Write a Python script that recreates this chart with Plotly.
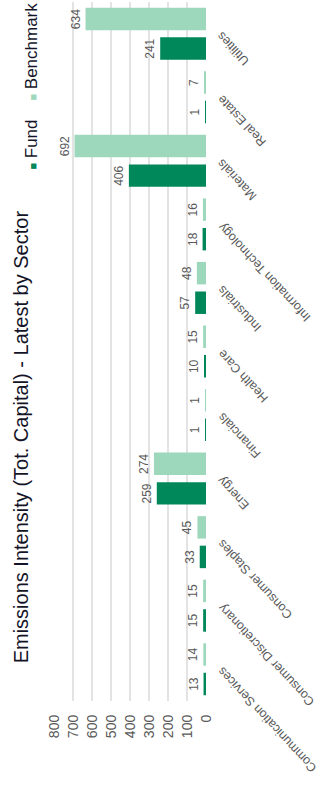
import math
import plotly.graph_objects as go

# Data (ordered bottom -> top as drawn)
sectors = ["Communication Services", "Consumer Discretionary", "Consumer Staples", "Energy",
           "Financials", "Health Care", "Industrials", "Information Technology",
           "Materials", "Real Estate", "Utilities"]
fund = [13, 15, 33, 259, 1, 10, 57, 18, 406, 1, 241]
benchmark = [14, 15, 45, 274, 1, 15, 48, 16, 692, 7, 634]
value_ticks = [0, 100, 200, 300, 400, 500, 600, 700, 800]
series_names = ["Fund", "Benchmark"]
title_text = "Emissions Intensity (Tot. Capital) - Latest by Sector"

FUND_COLOR = "#00875A"
BENCH_COLOR = "#9ED8BC"
TEXT_COLOR = "#595959"
FONT = "Liberation Sans, Arial, sans-serif"

# approximate Arial glyph widths (em) for label placement
_W = {"a": .556, "b": .556, "c": .5, "d": .556, "e": .556, "f": .278, "g": .556, "h": .556,
      "i": .222, "l": .222, "m": .833, "n": .556, "o": .556, "p": .556, "r": .333, "s": .5,
      "t": .278, "u": .556, "v": .5, "y": .5, "C": .722, "D": .722, "E": .667, "F": .611,
      "H": .722, "I": .278, "M": .833, "R": .722, "S": .667, "T": .611, "U": .722, " ": .278}


def text_width(s, size):
    return sum(_W.get(ch, .556) for ch in s) * size


fig = go.Figure()
for name, vals, col in [(series_names[0], fund, FUND_COLOR), (series_names[1], benchmark, BENCH_COLOR)]:
    fig.add_trace(go.Bar(
        y=sectors, x=vals, name=name, orientation="h",
        marker=dict(color=col, line=dict(width=0)),
        text=[str(v) for v in vals], textposition="outside", textangle=-90,
        constraintext="none", cliponaxis=False,
        textfont=dict(size=12, color=TEXT_COLOR, family=FONT),
        showlegend=False,
    ))

fig.update_layout(
    width=328, height=791,
    margin=dict(l=54, r=122, t=2, b=90, autoexpand=False),
    paper_bgcolor="white", plot_bgcolor="white",
    barmode="group", bargap=0.07, bargroupgap=0.24,
    font=dict(family=FONT, color=TEXT_COLOR),
    xaxis=dict(range=[800, 0], tickvals=value_ticks, ticktext=[str(v) for v in value_ticks],
               tickangle=-90, showgrid=True, gridcolor="#E3E3E3", gridwidth=1.5,
               zeroline=False, showline=False, ticks="", ticklabelstandoff=10,
               automargin=False,
               tickfont=dict(size=14, color=TEXT_COLOR, family=FONT)),
    yaxis=dict(side="right", categoryorder="array", categoryarray=sectors, automargin=False,
               range=[-0.5, len(sectors) - 0.5], autorange=False,
               showticklabels=False, showgrid=False, zeroline=False, showline=False, ticks=""),
)

# Category labels: upside-down diagonal text ending next to the axis
LBL_SIZE = 12.5
ANG = -133
ux, uy = math.cos(math.radians(ANG)), math.sin(math.radians(ANG))  # reading direction (screen)
for s in sectors:
    w = text_width(s, LBL_SIZE)
    cx = 14 - ux * w / 2     # centre of label, px right of axis
    cy = 0 - uy * w / 2      # px below category centre
    fig.add_annotation(
        text=s, textangle=ANG, showarrow=False,
        xref="paper", yref="y", x=1.0, y=s, xanchor="center", yanchor="middle",
        xshift=cx, yshift=-cy,
        font=dict(size=LBL_SIZE, color=TEXT_COLOR, family=FONT),
    )

fig.add_annotation(
    text=title_text, textangle=-90, showarrow=False,
    xref="paper", yref="paper", x=-0.22, y=0.378, xanchor="center", yanchor="middle",
    font=dict(size=20, color="#141428", family=FONT),
)
sp = "\u00a0"
legend_text = (f"<span style='color:{FUND_COLOR};font-size:11px'>■</span>{sp}{series_names[0]}{sp*4}"
               f"<span style='color:{BENCH_COLOR};font-size:11px'>■</span>{sp}{series_names[1]}")
fig.add_annotation(
    text=legend_text, textangle=-90, showarrow=False,
    xref="paper", yref="paper", x=-0.145, y=0.758, xanchor="center", yanchor="bottom",
    font=dict(size=17, color="#141428", family=FONT),
)

fig.write_html("out.html")
